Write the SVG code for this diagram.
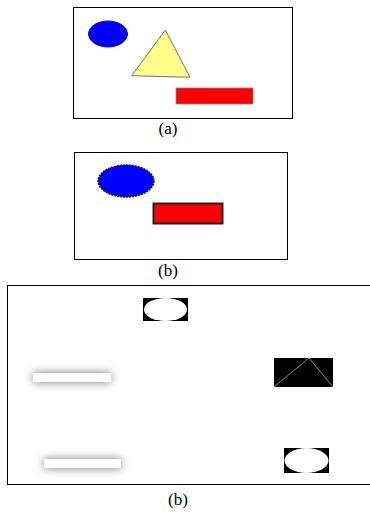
<svg xmlns="http://www.w3.org/2000/svg" width="370" height="512" viewBox="0 0 370 512">
<style>
.frame{fill:#fff;stroke:#000;stroke-width:1}
.lbl{font-family:"Liberation Serif","Times New Roman",serif;font-size:17px;fill:#000;text-anchor:middle}
.blk{fill:#000}
.hole{fill:#fff}
</style>
<defs>
<filter id="blur" x="-50%" y="-200%" width="200%" height="500%"><feGaussianBlur stdDeviation="5"/></filter>
</defs>
<rect width="370" height="512" fill="#fff"/>
<g id="panel-a">
<rect class="frame" x="73.5" y="7.5" width="219" height="111"/>
<ellipse cx="108" cy="34" rx="19.5" ry="13" fill="#0000ff" stroke="#1a1a80" stroke-width="1"/>
<polygon points="165.3,30 131.7,75.7 190,77.3" fill="#ffff88" stroke="#777" stroke-width="1"/>
<rect x="176" y="88" width="77" height="16" fill="#ff0000" stroke="#888" stroke-width="0.8"/>
<text class="lbl" x="168" y="134">(a)</text>
</g>
<g id="panel-b">
<rect class="frame" x="74.5" y="152.5" width="213" height="107"/>
<ellipse cx="126" cy="181" rx="28" ry="16" fill="#0000ff" stroke="#222" stroke-width="1.5" stroke-dasharray="2,1"/>
<rect x="153.5" y="203.5" width="69" height="20" fill="#ff0000" stroke="#222" stroke-width="2"/>
<text class="lbl" x="168" y="276">(b)</text>
</g>
<g id="panel-c">
<rect class="frame" x="7.5" y="285.5" width="363" height="199"/>
<g id="top-ellipse">
<rect class="blk" x="143" y="298" width="45" height="23"/>
<ellipse class="hole" cx="165.5" cy="309.5" rx="21.5" ry="11.5"/>
</g>
<g id="bar-1">
<rect x="33" y="373" width="78" height="9" fill="#777" filter="url(#blur)"/>
<rect class="hole" x="33" y="373" width="78" height="9"/>
</g>
<g id="triangle-box">
<rect class="blk" x="274" y="358" width="59" height="29"/>
<polyline points="274,387 309,358 333,387" fill="none" stroke="#888" stroke-width="1"/>
</g>
<g id="bar-2">
<rect x="44" y="459" width="77" height="9" fill="#777" filter="url(#blur)"/>
<rect class="hole" x="44" y="459" width="77" height="9"/>
</g>
<g id="bottom-ellipse">
<rect class="blk" x="284" y="448" width="45" height="25"/>
<ellipse class="hole" cx="306.5" cy="460.5" rx="22" ry="12.5"/>
</g>
<text class="lbl" x="178" y="505">(b)</text>
</g>
</svg>
